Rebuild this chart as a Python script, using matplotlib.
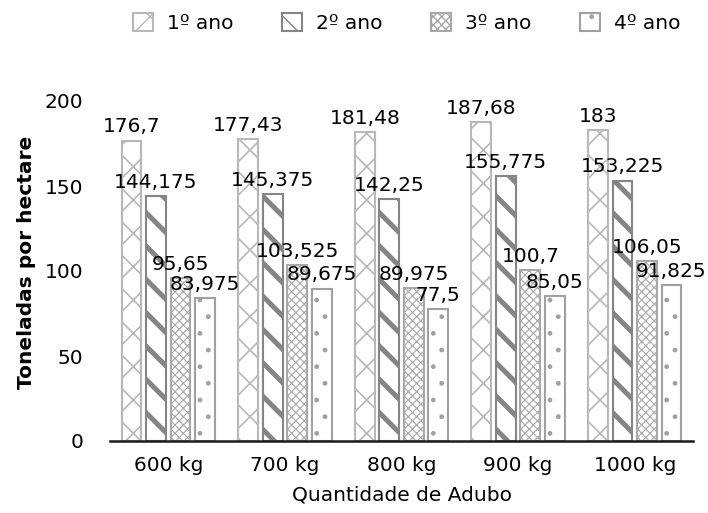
import matplotlib
matplotlib.use("Agg")
import matplotlib.pyplot as plt
import numpy as np

categories = ["600 kg", "700 kg", "800 kg", "900 kg", "1000 kg"]
series_names = ["1º ano", "2º ano", "3º ano", "4º ano"]
ano1 = [176.7, 177.43, 181.48, 187.68, 183]
ano2 = [144.175, 145.375, 142.25, 155.775, 153.225]
ano3 = [95.65, 103.525, 89.975, 100.7, 106.05]
ano4 = [83.975, 89.675, 77.5, 85.05, 91.825]
yticks = [0, 50, 100, 150, 200]

series = [ano1, ano2, ano3, ano4]
hatches = ["x", "\\", "xxxx", "."]
edgecols = ["#b8b8b8", "#858585", "#a8a8a8", "#a0a0a0"]
hatch_lw = [1.2, 3.6, 0.8, 1.0]

plt.rcParams["font.family"] = ["DejaVu Sans"]
FS = 14.5

fig = plt.figure(figsize=(7.08, 5.13), dpi=100)
ax = fig.add_axes([110/708, 1-441/513, 583/708, 340/513])

x = np.arange(len(categories))
w = 0.17
pitch = 0.21
handles = []
for i, (vals, h, ec, hl) in enumerate(zip(series, hatches, edgecols, hatch_lw)):
    off = (i - 1.5) * pitch
    bars = ax.bar(x + off, vals, w, color="white", edgecolor=ec, hatch=h,
                  linewidth=1.5, label=series_names[i], zorder=2)
    for b in bars:
        if hasattr(b, "set_hatch_linewidth"):
            b.set_hatch_linewidth(hl)
    labels = [f"{v:g}".replace(".", ",") for v in vals]
    ax.bar_label(bars, labels=labels, padding=3, fontsize=FS, color="black", zorder=3)
    handles.append(bars)

ax.set_xlim(-0.5, len(categories) - 0.5)
ax.set_ylim(0, 200)
ax.set_yticks(yticks)
ax.set_yticklabels([str(t) for t in yticks], fontsize=FS)
ax.set_xticks(x)
ax.set_xticklabels(categories, fontsize=FS)
ax.tick_params(axis="y", length=0, pad=19)
ax.tick_params(axis="x", length=0, pad=11)
for s in ["top", "right", "left"]:
    ax.spines[s].set_visible(False)
ax.spines["bottom"].set_color("#1a1a1a")
ax.spines["bottom"].set_linewidth(1.8)

ax.set_ylabel("Toneladas por hectare", fontsize=FS, fontweight="bold")
ax.yaxis.set_label_coords(-0.127, 0.526)
ax.set_xlabel("Quantidade de Adubo", fontsize=FS)
ax.xaxis.set_label_coords(0.5, -0.132)

fig.legend(handles=handles, labels=series_names, loc="center",
           bbox_to_anchor=(407/708, 1-23/513), ncol=4, frameon=False,
           fontsize=FS, handlelength=1.0, handleheight=1.0,
           handletextpad=0.7, columnspacing=2.4)

fig.savefig("out.png", dpi=100)
